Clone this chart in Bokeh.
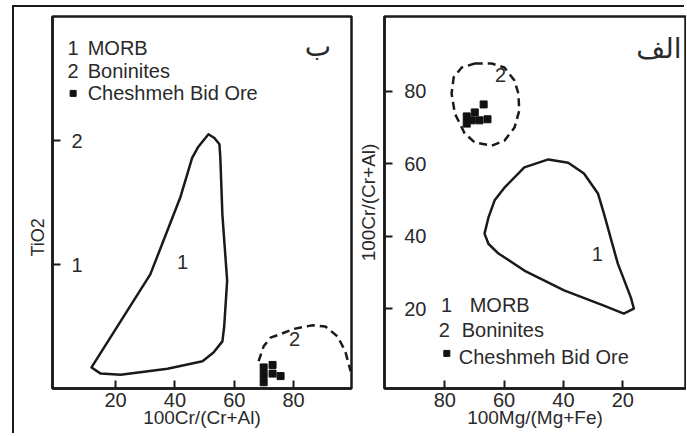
from bokeh.plotting import figure
from bokeh.layouts import row
from bokeh.models import Range1d, FixedTicker, Title
from bokeh.core.properties import value
from bokeh.embed import file_html
from bokeh.resources import INLINE

# ---------------- Left panel (ب): TiO2 vs 100Cr/(Cr+Al) ----------------
b_x_ticks = [20, 40, 60, 80]
b_y_ticks = [1, 2]
b_morb_x = [51.3, 53.3, 55.0, 55.3, 56.0, 57.6, 56.6, 56.0, 53.0, 49.3, 37.5, 21.7, 15.0, 11.9, 22.7, 31.7, 41.8, 45.8, 47.9]
b_morb_y = [2.05, 2.02, 1.97, 1.86, 1.40, 0.87, 0.50, 0.38, 0.29, 0.22, 0.16, 0.11, 0.12, 0.17, 0.58, 0.92, 1.54, 1.86, 1.95]
b_bon_x = [68.2, 69.9, 72.2, 74.6, 80.0, 86.4, 90.7, 94.8, 97.4, 99.2]
b_bon_y = [0.22, 0.34, 0.41, 0.43, 0.48, 0.51, 0.50, 0.42, 0.30, 0.14]
b_ore_x = [69.9, 69.9, 69.9, 72.9, 72.9, 75.6]
b_ore_y = [0.17, 0.11, 0.05, 0.19, 0.12, 0.10]

# ---------------- Right panel (الف): 100Cr/(Cr+Al) vs 100Mg/(Mg+Fe) ----------------
a_x_ticks = [20, 40, 60, 80]
a_y_ticks = [20, 40, 60, 80]
a_morb_x = [63.2, 59.9, 53.2, 45.1, 38.4, 33.1, 28.4, 26.4, 21.7, 17.3, 16.3, 19.7, 26.4, 39.8, 53.2, 61.9, 65.3, 66.6, 65.3]
a_morb_y = [49.9, 53.4, 59.0, 61.2, 60.3, 57.3, 51.8, 46.3, 32.4, 23.0, 20.0, 18.6, 20.8, 25.0, 30.5, 35.2, 37.9, 40.7, 45.1]
a_bon_x = [69.9, 64.2, 59.9, 56.5, 55.2, 54.9, 56.5, 59.9, 64.2, 69.9, 73.3, 76.6, 77.7, 77.0, 74.3]
a_bon_y = [87.7, 87.7, 86.6, 83.0, 79.4, 74.7, 70.0, 66.4, 65.0, 65.9, 68.4, 73.9, 79.4, 83.9, 86.6]
a_ore_x = [66.9, 69.9, 72.6, 70.9, 72.6, 68.3, 65.6]
a_ore_y = [76.4, 74.2, 73.1, 72.0, 71.1, 72.0, 72.3]

legend_nums = ["1", "2"]
legend_names = ["MORB", "Boninites", "Cheshmeh Bid Ore"]

FONT = "Liberation Sans"
INK = "#1a1a1a"
TXT = "#2a2a2a"


def style(p, xticks, yticks, ylab_standoff, xlabel, ylabel, ylabel_size, ylab_axis_standoff):
    p.grid.visible = False
    p.outline_line_color = INK
    p.outline_line_width = 2.5
    p.background_fill_color = "white"
    p.border_fill_color = "white"
    for ax in (p.xaxis[0], p.yaxis[0]):
        ax.axis_line_color = INK
        ax.axis_line_width = 2.5
        ax.major_tick_line_color = INK
        ax.major_tick_line_width = 2
        ax.major_tick_in = 8
        ax.major_tick_out = 0
        ax.minor_tick_line_color = None
        ax.major_label_text_font = FONT
        ax.major_label_text_font_size = "20px"
        ax.major_label_text_color = TXT
        ax.axis_label_text_font = FONT
        ax.axis_label_text_font_style = "normal"
        ax.axis_label_text_color = TXT
    p.xaxis[0].ticker = FixedTicker(ticks=xticks)
    p.yaxis[0].ticker = FixedTicker(ticks=yticks)
    p.xaxis[0].axis_label = xlabel
    p.xaxis[0].axis_label_text_font_size = "19px"
    p.xaxis[0].major_label_standoff = 4
    p.xaxis[0].axis_label_standoff = -3
    if ylabel:
        p.yaxis[0].axis_label = ylabel
        p.yaxis[0].axis_label_text_font_size = ylabel_size
        p.yaxis[0].axis_label_standoff = ylab_axis_standoff
    p.yaxis[0].major_label_standoff = ylab_standoff


H = 428

# Left figure
p1 = figure(width=340, height=H, output_backend="svg", toolbar_location=None,
            x_range=Range1d(-1.25, 99.5), y_range=Range1d(0.0, 3.0),
            min_border_left=38, min_border_right=3, min_border_top=9, min_border_bottom=H - 9 - 374)
style(p1, b_x_ticks, b_y_ticks, -30, "100Cr/(Cr+Al)", None, None, None)
# y title of the left panel sits below the frame centre in the original
p1.add_layout(Title(text="TiO2", align="left", offset=132, standoff=10,
                    text_font=FONT, text_font_size="18px", text_font_style="normal",
                    text_color=TXT), "left")

p1.patch(b_morb_x, b_morb_y, fill_color=None, line_color=INK, line_width=2.5, line_join="round")
p1.line(b_bon_x, b_bon_y, line_color=INK, line_width=2.5, line_dash="8 5")
p1.scatter(b_ore_x, b_ore_y, marker="square", size=7, color="#111111")

p1.text(x=[42.6, 80.3], y=[1.02, 0.40], text=legend_nums, text_font=value(FONT),
        text_font_size="20px", text_color=TXT, text_align="center", text_baseline="middle")
p1.text(x=[3.8, 3.8], y=[2.75, 2.56], text=legend_nums, text_font=value(FONT),
        text_font_size="20px", text_color=TXT, text_align="left", text_baseline="middle")
p1.text(x=[10.6, 10.6, 10.6], y=[2.75, 2.56, 2.38], text=legend_names, text_font=value(FONT),
        text_font_size="20px", text_color=TXT, text_align="left", text_baseline="middle")
p1.scatter(x=[5.7], y=[2.38], marker="square", size=6, color="#111111")
p1.text(x=[92.6], y=[2.76], text=["ب"], text_font=value("DejaVu Sans"),
        text_font_size="28px", text_color=TXT, text_align="right", text_baseline="middle")

# Right figure
p2 = figure(width=332, height=H, output_backend="svg", toolbar_location=None,
            x_range=Range1d(100.3, -1.1), y_range=Range1d(-2.1, 100.7),
            min_border_left=30, min_border_right=1, min_border_top=9, min_border_bottom=H - 9 - 372)
style(p2, a_x_ticks, a_y_ticks, -42, "100Mg/(Mg+Fe)", "100Cr/(Cr+Al)", "19px", 22)

p2.patch(a_morb_x, a_morb_y, fill_color=None, line_color=INK, line_width=2.5, line_join="round")
p2.patch(a_bon_x, a_bon_y, fill_color=None, line_color=INK, line_width=2.5, line_dash="8 5")
p2.scatter(a_ore_x, a_ore_y, marker="square", size=7, color="#111111")

p2.text(x=[28.6, 61.2], y=[35.2, 84.4], text=legend_nums, text_font=value(FONT),
        text_font_size="20px", text_color=TXT, text_align="center", text_baseline="middle")
p2.text(x=[81.3, 82.0], y=[21.0, 14.0], text=legend_nums, text_font=value(FONT),
        text_font_size="20px", text_color=TXT, text_align="left", text_baseline="middle")
p2.text(x=[71.6, 74.3, 75.3], y=[21.0, 14.0, 6.6], text=legend_names, text_font=value(FONT),
        text_font_size="20px", text_color=TXT, text_align="left", text_baseline="middle")
p2.scatter(x=[79.3], y=[7.6], marker="square", size=6, color="#111111")
p2.text(x=[0.2], y=[91.9], text=["الف"], text_font=value("DejaVu Sans"),
        text_font_size="28px", text_color=TXT, text_align="right", text_baseline="middle")

layout = row(p1, p2, styles={"margin-left": "14px", "margin-top": "7px",
                             "box-shadow": "-2px -2px 0 0 #1a1a1a"})

open("out.html", "w").write(file_html(layout, INLINE))
